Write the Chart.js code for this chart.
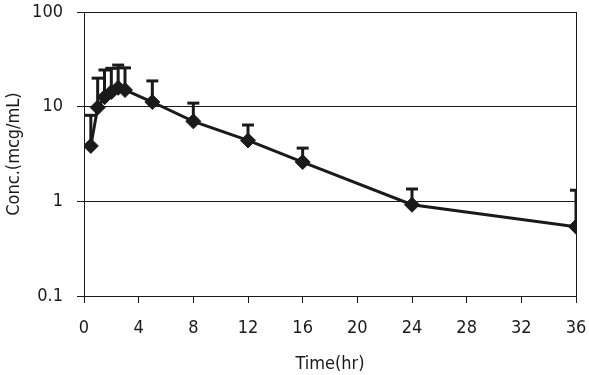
<!DOCTYPE html>
<html>
<head>
<meta charset="utf-8">
<script src="https://cdn.jsdelivr.net/npm/chart.js@4/dist/chart.umd.min.js"></script>
<style>
  html, body { margin: 0; padding: 0; background: #fff; }
  #wrap { width: 589px; height: 375px; position: relative; }
</style>
</head>
<body>
<div id="wrap"><canvas id="chart"></canvas></div>
<script>
const times  = [0.5, 1, 1.5, 2, 2.5, 3, 5, 8, 12, 16, 24, 36];
const conc   = [3.85, 9.8, 12.6, 14.3, 15.8, 15.0, 11.2, 7.0, 4.4, 2.6, 0.92, 0.54];
const upper  = [8.1, 20.0, 24.4, 25.4, 27.5, 25.7, 18.7, 10.9, 6.4, 3.65, 1.35, 1.31];
const xTicks = [0, 4, 8, 12, 16, 20, 24, 28, 32, 36];
const yTicks = [0.1, 1, 10, 100];

const ink  = '#1a1a1a';
const font = "'Liberation Sans Narrow', 'DejaVu Sans Condensed', sans-serif";

// error bars: stem from mean up to upper, cap drawn as a 'line' point
const errData = [];
times.forEach((t, i) => {
  errData.push({ x: t, y: conc[i] });
  errData.push({ x: t, y: upper[i] });
  errData.push({ x: t, y: null });
});

const noPad = s => {
  s.paddingTop = s.paddingBottom = s.paddingLeft = s.paddingRight = 0;
};

const frame = {
  id: 'frame',
  afterDraw(chart) {
    const { ctx, chartArea: a } = chart;
    ctx.save();
    ctx.strokeStyle = ink;
    ctx.lineWidth = 1;
    ctx.strokeRect(a.left + 0.5, a.top + 0.5, a.right - a.left, a.bottom - a.top);
    ctx.restore();
  }
};

new Chart(document.getElementById('chart'), {
  type: 'line',
  data: {
    datasets: [
      {
        label: 'Conc.',
        data: times.map((t, i) => ({ x: t, y: conc[i] })),
        borderColor: ink,
        backgroundColor: ink,
        borderWidth: 3,
        tension: 0,
        pointStyle: 'rectRot',
        pointRadius: 7.5,
        pointBorderWidth: 1,
        order: 0,
      },
      {
        label: 'SD',
        data: errData,
        borderColor: ink,
        backgroundColor: ink,
        borderWidth: 3,
        spanGaps: false,
        pointStyle: 'line',
        pointRadius: c => (c.dataIndex % 3 === 1 ? 6 : 0),
        pointBorderWidth: 3,
        order: 1,
      },
    ],
  },
  options: {
    responsive: true,
    maintainAspectRatio: false,
    animation: false,
    layout: { padding: { top: 12, right: 13, bottom: 0, left: 0 } },
    plugins: {
      legend:  { display: false },
      tooltip: { enabled: false },
    },
    scales: {
      x: {
        type: 'linear',
        min: 0,
        max: 36,
        afterBuildTicks: s => { s.ticks = xTicks.map(v => ({ value: v })); },
        afterFit: s => { s.height = 79; noPad(s); },
        ticks: { color: ink, font: { family: font, size: 18 }, padding: 15, autoSkip: false, maxRotation: 0 },
        grid: { drawOnChartArea: false, color: ink, tickLength: 7, tickWidth: 1 },
        border: { color: ink, width: 1 },
        title: { display: true, text: 'Time(hr)', color: ink, font: { family: font, size: 18 }, padding: { top: 4, bottom: 0 } },
      },
      y: {
        type: 'logarithmic',
        min: 0.1,
        max: 100,
        afterBuildTicks: s => { s.ticks = yTicks.map(v => ({ value: v })); },
        afterFit: s => { s.width = 84; noPad(s); },
        ticks: { color: ink, font: { family: font, size: 18 }, padding: 14, callback: v => String(v) },
        grid: { color: ink, lineWidth: 1, tickLength: 7 },
        border: { color: ink, width: 1 },
        title: { display: true, text: 'Conc.(mcg/mL)', color: ink, font: { family: font, size: 18 }, padding: { bottom: 0 } },
      },
    },
  },
  plugins: [frame],
});
</script>
</body>
</html>
